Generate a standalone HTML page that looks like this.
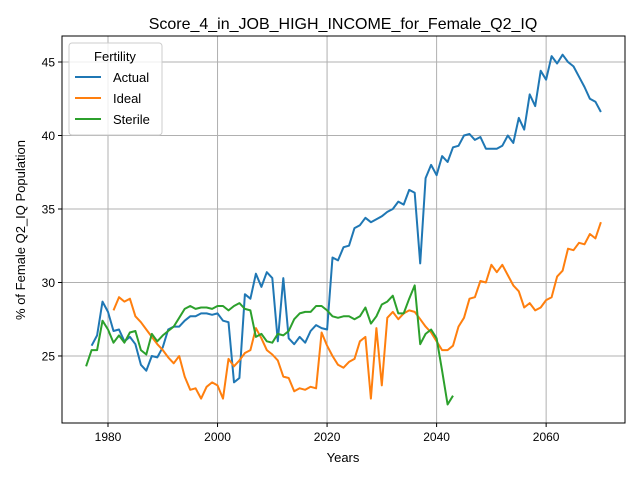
<!DOCTYPE html>
<html><head><meta charset="utf-8"><style>
body{margin:0;background:#fff;}
svg text{font-family:"Liberation Sans","DejaVu Sans",sans-serif;}
</style></head><body>
<svg id="chart" width="640" height="480" xmlns="http://www.w3.org/2000/svg">
<rect width="640" height="480" fill="#fff"/>
<g id="grid"></g>
<g id="series"></g>
<rect x="62" y="36" width="563" height="387" fill="none" stroke="#000" stroke-width="1"/>
<g id="ticks"></g>
<text x="343" y="29" font-size="16" text-anchor="middle">Score_4_in_JOB_HIGH_INCOME_for_Female_Q2_IQ</text>
<text x="343" y="462" font-size="13" text-anchor="middle">Years</text>
<text transform="translate(25,230) rotate(-90)" font-size="13" text-anchor="middle">% of Female Q2_IQ Population</text>
<g id="legend">
<rect x="69" y="43" width="93" height="92" rx="3" fill="#fff" fill-opacity="0.8" stroke="#ccc"/>
<text x="115" y="61" font-size="13" text-anchor="middle">Fertility</text>
<line x1="75" y1="77" x2="101" y2="77" stroke="#1f77b4" stroke-width="2"/>
<text x="113" y="82" font-size="13">Actual</text>
<line x1="75" y1="98" x2="101" y2="98" stroke="#ff7f0e" stroke-width="2"/>
<text x="113" y="103" font-size="13">Ideal</text>
<line x1="75" y1="119" x2="101" y2="119" stroke="#2ca02c" stroke-width="2"/>
<text x="113" y="124" font-size="13">Sterile</text>
</g>
</svg>
<script>
const actualStart = 1977;
const actualValues = [25.7,26.4,28.7,28.0,26.7,26.8,26.0,26.3,25.8,24.4,24.0,25.0,24.9,25.6,26.8,27.0,27.0,27.4,27.7,27.7,27.9,27.9,27.8,27.9,27.4,27.3,23.2,23.5,29.2,28.9,30.6,29.7,30.7,30.3,26.0,30.3,26.2,25.8,26.3,25.9,26.7,27.1,26.9,26.8,31.7,31.5,32.4,32.5,33.7,33.9,34.4,34.1,34.3,34.5,34.8,35.0,35.5,35.3,36.3,36.1,31.3,37.1,38.0,37.3,38.6,38.2,39.2,39.3,40.0,40.1,39.7,39.9,39.1,39.1,39.1,39.3,40.0,39.5,41.2,40.4,42.8,42.0,44.4,43.8,45.4,44.9,45.5,45.0,44.7,44.0,43.3,42.5,42.3,41.6];
const idealStart = 1981;
const idealValues = [28.1,29.0,28.7,28.9,27.7,27.3,26.8,26.3,25.8,25.4,24.9,24.5,25.0,23.6,22.7,22.8,22.1,22.9,23.2,23.0,22.1,24.8,24.3,24.7,25.2,25.4,26.9,26.2,25.4,25.1,24.7,23.6,23.5,22.6,22.8,22.7,22.9,22.8,26.6,25.7,25.0,24.4,24.2,24.6,24.8,26.0,26.3,22.1,26.9,23.0,27.6,28.0,27.5,27.9,28.1,28.0,27.5,27.0,26.6,26.0,25.4,25.4,25.7,27.0,27.6,28.9,29.0,30.1,30.0,31.2,30.7,31.2,30.5,29.8,29.4,28.3,28.6,28.1,28.3,28.8,29.0,30.4,30.8,32.3,32.2,32.7,32.6,33.3,33.0,34.1];
const sterileStart = 1976;
const sterileValues = [24.3,25.4,25.4,27.4,26.8,25.9,26.4,25.9,26.6,26.7,25.4,25.1,26.5,26.0,26.4,26.7,27.0,27.6,28.2,28.4,28.2,28.3,28.3,28.2,28.4,28.4,28.1,28.4,28.6,28.2,28.1,26.3,26.5,26.0,25.9,26.5,26.4,26.7,27.5,27.9,28.0,28.0,28.4,28.4,28.1,27.7,27.6,27.7,27.7,27.5,27.7,28.3,27.2,27.7,28.5,28.7,29.1,27.9,27.9,28.9,29.8,25.8,26.5,26.8,26.2,24.0,21.7,22.3];
const xTicks = [1980,2000,2020,2040,2060];
const yTicks = [25,30,35,40,45];

const X0=62,X1=625,Y0=36,Y1=423;
const xMin=1971.6,xMax=2074.4,yMin=20.44,yMax=46.77;
const xs=v=>X0+(v-xMin)/(xMax-xMin)*(X1-X0);
const ys=v=>Y1-(v-yMin)/(yMax-yMin)*(Y1-Y0);
const NS="http://www.w3.org/2000/svg";
const grid=document.getElementById('grid'),ticks=document.getElementById('ticks'),series=document.getElementById('series');
function mk(tag,attrs,parent){const e=document.createElementNS(NS,tag);for(const k in attrs)e.setAttribute(k,attrs[k]);parent.appendChild(e);return e;}
xTicks.forEach(t=>{
  const x=xs(t);
  const g=mk('line',{x1:x,x2:x,y1:Y0,y2:Y1,stroke:'#b0b0b0','stroke-width':1},grid);
  
  
  mk('line',{x1:x,x2:x,y1:Y1,y2:Y1+4,stroke:'#000'},ticks);
  const tx=mk('text',{x:x,y:Y1+18,'font-size':12,'text-anchor':'middle'},ticks);
  tx.textContent=t;
  
  
});
yTicks.forEach(t=>{
  const y=ys(t);
  const g=mk('line',{x1:X0,x2:X1,y1:y,y2:y,stroke:'#b0b0b0','stroke-width':1},grid);
  
  
  mk('line',{x1:X0-4,x2:X0,y1:y,y2:y,stroke:'#000'},ticks);
  const tx=mk('text',{x:X0-7,y:y+4.5,'font-size':12,'text-anchor':'end'},ticks);
  tx.textContent=t;
  
  
});
function line(start,vals,color,name){
  const pts=vals.map((v,i)=>xs(start+i).toFixed(1)+','+ys(v).toFixed(1)).join(' ');
  const p=mk('polyline',{points:pts,fill:'none',stroke:color,'stroke-width':2,'stroke-linejoin':'round'},series);
  
  
}
line(actualStart,actualValues,'#1f77b4','actual-line');
line(idealStart,idealValues,'#ff7f0e','ideal-line');
line(sterileStart,sterileValues,'#2ca02c','sterile-line');
</script>
</body></html>
